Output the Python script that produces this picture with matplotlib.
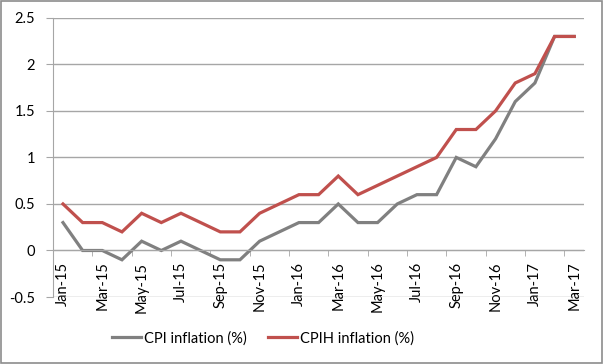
import numpy as np
import matplotlib
matplotlib.use("Agg")
import matplotlib.pyplot as plt
from matplotlib.patches import Rectangle

# =========================================================
# DATA
# =========================================================
months = ["Jan-15", "Feb-15", "Mar-15", "Apr-15", "May-15", "Jun-15", "Jul-15",
          "Aug-15", "Sep-15", "Oct-15", "Nov-15", "Dec-15",
          "Jan-16", "Feb-16", "Mar-16", "Apr-16", "May-16", "Jun-16", "Jul-16",
          "Aug-16", "Sep-16", "Oct-16", "Nov-16", "Dec-16",
          "Jan-17", "Feb-17", "Mar-17"]

cpi = [0.3, 0.0, 0.0, -0.1, 0.1, 0.0, 0.1, 0.0, -0.1, -0.1, 0.1, 0.2,
       0.3, 0.3, 0.5, 0.3, 0.3, 0.5, 0.6, 0.6, 1.0, 0.9, 1.2, 1.6,
       1.8, 2.3, 2.3]

cpih = [0.5, 0.3, 0.3, 0.2, 0.4, 0.3, 0.4, 0.3, 0.2, 0.2, 0.4, 0.5,
        0.6, 0.6, 0.8, 0.6, 0.7, 0.8, 0.9, 1.0, 1.3, 1.3, 1.5, 1.8,
        1.9, 2.3, 2.3]

y_ticks = [-0.5, 0, 0.5, 1, 1.5, 2, 2.5]
y_labels = ["-0.5", "0", "0.5", "1", "1.5", "2", "2.5"]

GREY = "#808080"
RED = "#c0504d"
AXIS = "#a6a6a6"
FS = 10.5

plt.rcParams["font.family"] = ["Lato", "DejaVu Sans"]

# =========================================================
# PLOT
# =========================================================
fig = plt.figure(figsize=(6.04, 3.64), dpi=100)
ax = fig.add_axes([0.088, 0.184, 0.879, 0.767])

x = np.arange(len(months))
ax.plot(x, cpi, color=GREY, linewidth=2.3, label="CPI inflation (%)", solid_joinstyle="miter")
ax.plot(x, cpih, color=RED, linewidth=2.3, label="CPIH inflation (%)", solid_joinstyle="miter")

ax.set_xlim(-0.5, len(months) - 0.5)
ax.set_ylim(-0.5, 2.5)

# gridlines
ax.set_yticks(y_ticks)
ax.set_yticklabels(y_labels, fontsize=FS)
ax.yaxis.grid(True, color=AXIS, linewidth=1.0)
ax.set_axisbelow(True)
ax.tick_params(axis="y", length=5, color=AXIS, pad=8)

# category axis crosses at zero; labels every other month, ticks at boundaries
ax.spines["bottom"].set_position(("data", 0))
ax.set_xticks(x[::2])
ax.set_xticklabels(months[::2], rotation=90, fontsize=FS, va="top")
ax.tick_params(axis="x", length=0, pad=8)
ax.set_xticks(np.arange(-0.5, len(months), 2), minor=True)
ax.tick_params(axis="x", which="minor", length=4, color=AXIS)

for side in ["top", "right"]:
    ax.spines[side].set_visible(False)
ax.spines["left"].set_color(AXIS)
ax.spines["bottom"].set_color(AXIS)

ax.legend(loc="center", bbox_to_anchor=(0.395, -0.147), ncol=2,
          frameon=False, fontsize=FS, handlelength=2.0, columnspacing=1.5,
          handletextpad=0.15)

# outer border
fig.patches.append(Rectangle((0.002, 0.003), 0.995, 0.993, transform=fig.transFigure,
                             fill=False, edgecolor="#8c8c8c", linewidth=1.2))

plt.savefig("out.png", dpi=100)
plt.close()
